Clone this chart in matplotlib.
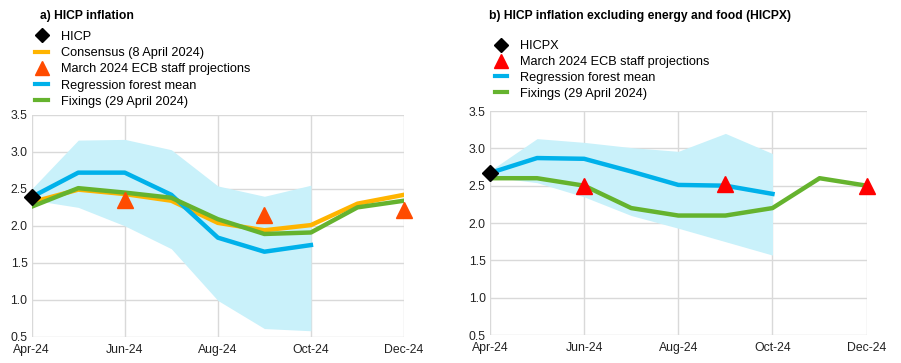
import matplotlib.pyplot as plt
from matplotlib.lines import Line2D

plt.rcParams["font.family"] = ["Liberation Sans", "DejaVu Sans"]
plt.rcParams["font.size"] = 8

months = ["Apr-24", "May-24", "Jun-24", "Jul-24", "Aug-24", "Sep-24", "Oct-24", "Nov-24", "Dec-24"]
x_all = list(range(len(months)))

# panel a) HICP
hicp_a = [2.39]
consensus_a = [2.32, 2.49, 2.43, 2.34, 2.04, 1.94, 2.01, 2.30, 2.42]
rf_mean_a = [2.39, 2.72, 2.72, 2.42, 1.84, 1.65, 1.74]
rf_upper_a = [2.50, 3.16, 3.17, 3.03, 2.54, 2.40, 2.55]
rf_lower_a = [2.35, 2.25, 2.00, 1.69, 0.99, 0.61, 0.58]
fixings_a = [2.26, 2.51, 2.45, 2.38, 2.09, 1.89, 1.91, 2.25, 2.34]
ecb_x_a = [2, 5, 8]
ecb_a = [2.35, 2.15, 2.22]

# panel b) HICPX
hicpx_b = [2.67]
rf_mean_b = [2.67, 2.87, 2.86, 2.69, 2.51, 2.50, 2.39]
rf_upper_b = [2.70, 3.13, 3.08, 3.01, 2.96, 3.20, 2.93]
rf_lower_b = [2.62, 2.54, 2.35, 2.10, 1.93, 1.75, 1.57]
fixings_b = [2.60, 2.60, 2.50, 2.20, 2.10, 2.10, 2.20, 2.60, 2.50]
ecb_x_b = [2, 5, 8]
ecb_b = [2.50, 2.52, 2.50]

blue = "#00B1EA"
orange = "#FFB400"
green = "#65B32E"
band = "#C9F1FA"
grid = "#D9D9D9"

fig = plt.figure(figsize=(9.01, 3.63), dpi=100)
ax1 = fig.add_axes([0.0352, 0.0725, 0.4132, 0.6107])
ax2 = fig.add_axes([0.5438, 0.0771, 0.4181, 0.6171])

lw = 3.2


def style(ax):
    ax.set_xlim(0, 8)
    ax.set_ylim(0.5, 3.5)
    ax.set_yticks([0.5, 1.0, 1.5, 2.0, 2.5, 3.0, 3.5])
    ax.set_yticklabels([f"{v:.1f}" for v in ax.get_yticks()])
    ax.set_xticks([0, 2, 4, 6, 8])
    ax.set_xticklabels([months[i] for i in [0, 2, 4, 6, 8]])
    ax.grid(color=grid, linewidth=1.0)
    ax.set_axisbelow(True)
    for s in ax.spines.values():
        s.set_visible(False)
    ax.tick_params(length=0, labelsize=8.8, colors="#222222", pad=5)
    ax.tick_params(axis="y", pad=3)


# panel a
ax1.fill_between(x_all[:7], rf_lower_a, rf_upper_a, color=band, lw=0, zorder=1)
ax1.plot(x_all, consensus_a, color=orange, lw=lw, zorder=3)
ax1.plot(x_all[:7], rf_mean_a, color=blue, lw=lw, zorder=3)
ax1.plot(x_all, fixings_a, color=green, lw=lw, zorder=4)
ax1.plot(ecb_x_a, ecb_a, ls="none", marker="^", ms=11, color="#FF4B00", zorder=5, clip_on=False)
ax1.plot([0], hicp_a, ls="none", marker="D", ms=8, color="black", zorder=6, clip_on=False)
style(ax1)

handles_a = [
    Line2D([], [], ls="none", marker="D", ms=7, color="black"),
    Line2D([], [], color=orange, lw=3),
    Line2D([], [], ls="none", marker="^", ms=10, color="#FF4B00"),
    Line2D([], [], color=blue, lw=3),
    Line2D([], [], color=green, lw=3),
]
labels_a = ["HICP", "Consensus (8 April 2024)", "March 2024 ECB staff projections",
            "Regression forest mean", "Fixings (29 April 2024)"]
fig.legend(handles_a, labels_a, loc="upper left", bbox_to_anchor=(0.039, 0.915),
           frameon=False, fontsize=9.2, handlelength=1.0, handletextpad=1.0,
           labelspacing=0.33, borderpad=0, borderaxespad=0)
fig.text(0.044, 0.955, "a) HICP inflation", fontsize=8.7, fontweight="bold", va="center")

# panel b
ax2.fill_between(x_all[:7], rf_lower_b, rf_upper_b, color=band, lw=0, zorder=1)
ax2.plot(x_all[:7], rf_mean_b, color=blue, lw=lw, zorder=3)
ax2.plot(x_all, fixings_b, color=green, lw=lw, zorder=4)
ax2.plot(ecb_x_b, ecb_b, ls="none", marker="^", ms=11, color="#FF0000", zorder=5, clip_on=False)
ax2.plot([0], hicpx_b, ls="none", marker="D", ms=8, color="black", zorder=6, clip_on=False)
style(ax2)

handles_b = [
    Line2D([], [], ls="none", marker="D", ms=7, color="black"),
    Line2D([], [], ls="none", marker="^", ms=10, color="#FF0000"),
    Line2D([], [], color=blue, lw=3),
    Line2D([], [], color=green, lw=3),
]
labels_b = ["HICPX", "March 2024 ECB staff projections", "Regression forest mean",
            "Fixings (29 April 2024)"]
fig.legend(handles_b, labels_b, loc="upper left", bbox_to_anchor=(0.549, 0.889),
           frameon=False, fontsize=9.2, handlelength=1.0, handletextpad=1.0,
           labelspacing=0.3, borderpad=0, borderaxespad=0)
fig.text(0.5425, 0.955, "b) HICP inflation excluding energy and food (HICPX)",
         fontsize=8.7, fontweight="bold", va="center")

fig.savefig("out.png", dpi=100)
